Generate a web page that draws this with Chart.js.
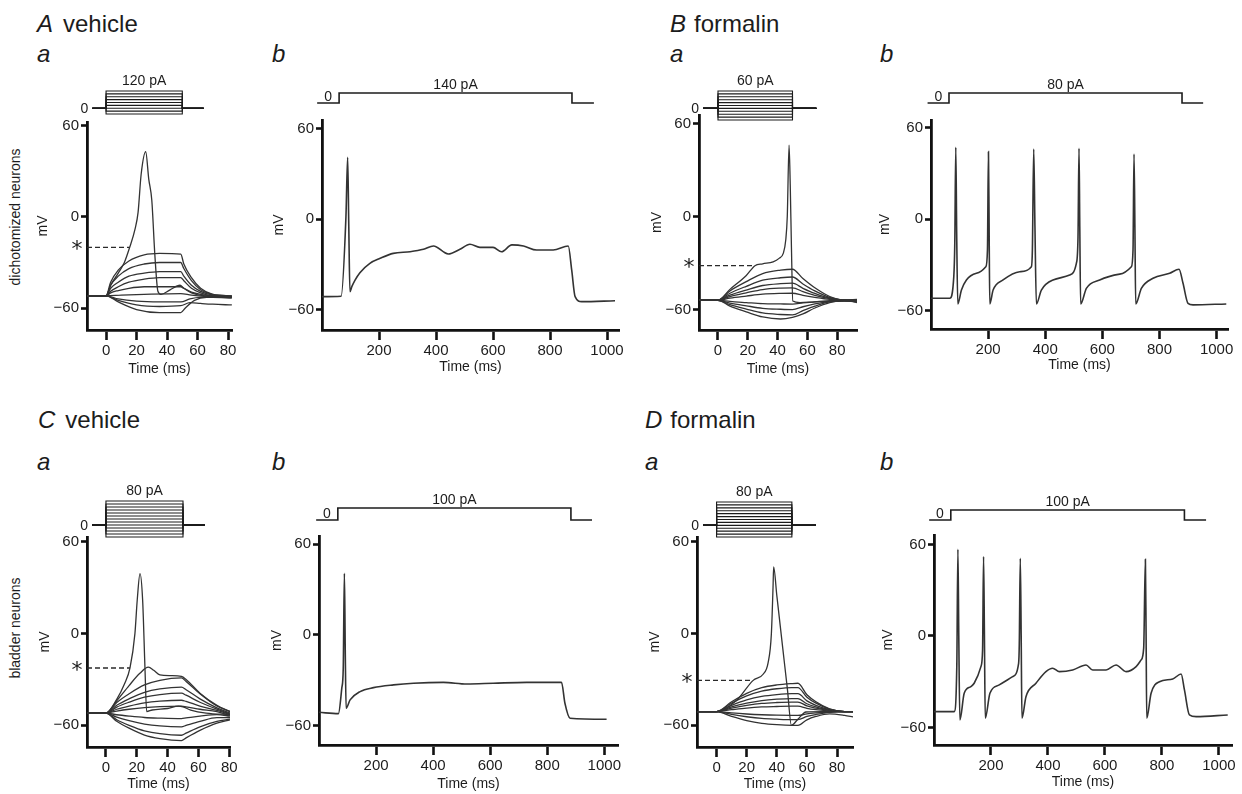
<!DOCTYPE html>
<html>
<head>
<meta charset="utf-8">
<script src="https://cdn.jsdelivr.net/npm/chart.js@4.4.1/dist/chart.umd.min.js"></script>
<style>
  body { margin: 0; background: #fff; width: 1242px; height: 794px; position: relative; overflow: hidden;
         font-family: "Liberation Sans", Arial, sans-serif; color: #1c1c1c; }
  canvas { position: absolute; }
  .h { position: absolute; font-size: 24px; line-height: 24px; white-space: nowrap; }
  .side { position: absolute; font-size: 14px; white-space: nowrap; transform: translate(-50%, -50%) rotate(-90deg); }
</style>
</head>
<body>
<div class="h" style="left:37px;top:12px"><i>A</i><span style="margin-left:10px">vehicle</span></div>
<div class="h" style="left:37px;top:42px"><i>a</i></div>
<div class="h" style="left:272px;top:42px"><i>b</i></div>
<div class="h" style="left:670px;top:12px"><i>B</i><span style="margin-left:8px">formalin</span></div>
<div class="h" style="left:670px;top:42px"><i>a</i></div>
<div class="h" style="left:880px;top:42px"><i>b</i></div>
<div class="h" style="left:38px;top:408px"><i>C</i><span style="margin-left:10px">vehicle</span></div>
<div class="h" style="left:37px;top:450px"><i>a</i></div>
<div class="h" style="left:272px;top:450px"><i>b</i></div>
<div class="h" style="left:645px;top:408px"><i>D</i><span style="margin-left:8px">formalin</span></div>
<div class="h" style="left:645px;top:450px"><i>a</i></div>
<div class="h" style="left:880px;top:450px"><i>b</i></div>
<div class="side" style="left:15px;top:217px">dichotomized neurons</div>
<div class="side" style="left:15px;top:628px">bladder neurons</div>

<script>
// ---- tick values ----
const yTicks = [-60, 0, 60];
const xTicksShort = [0, 20, 40, 60, 80];
const xTicksLong = [200, 400, 600, 800, 1000];

// ---- A a : vehicle, dichotomized, step family (t ms, mV) ----
const stimAmps_Aa = [-40, -20, 0, 20, 40, 60, 80, 100, 120];
const stimTime_Aa = [-9, 0, 50, 64];
const thr_Aa = [-20, 15.5];
const spike_Aa = [[-12.5,-52],[0,-52],[3,-45],[8,-37],[12,-30],[15.5,-20],[19,-8],[21,3],[23,28],[26,43],[28,25],[30,11],[32,-25],[34,-49],[36,-51],[42,-48],[48.5,-45],[51,-47],[56,-50],[65,-52],[82.5,-52.5]];
const sub_Aa = [
  [[-12.5,-52],[0,-52],[3,-43],[8,-35],[15,-29],[25,-25],[35,-24],[49,-24.5],[51,-31],[56,-40],[62,-47],[70,-51],[82.5,-52]],
  [[-12.5,-52],[0,-52],[3,-45],[8,-39],[15,-34],[25,-31],[35,-30],[49,-30],[51,-34],[56,-42],[62,-48],[70,-51],[82.5,-52]],
  [[-12.5,-52],[0,-52],[3,-47],[8,-43],[15,-39],[25,-37],[35,-36],[49,-36],[51,-39],[56,-45],[62,-49],[70,-51.5],[82.5,-52.5]],
  [[-12.5,-52],[0,-52],[3,-49],[8,-46],[15,-43],[25,-41],[35,-40],[49,-40],[51,-42],[56,-47],[62,-50],[70,-52],[82.5,-52.5]],
  [[-12.5,-52],[0,-52],[3,-50],[8,-48.5],[15,-47],[25,-46],[35,-46],[49,-46],[51,-47],[56,-49.5],[62,-51],[70,-52],[82.5,-53]],
  [[-12.5,-52],[0,-52],[10,-51.5],[25,-51],[49,-50.5],[56,-51.5],[70,-52.5],[82.5,-52.5]],
  [[-12.5,-52],[0,-52],[8,-54],[20,-55.5],[35,-56],[49,-56],[55,-54],[62,-53],[70,-53],[82.5,-53.5]],
  [[-12.5,-52],[0,-52],[8,-55],[20,-58],[35,-59],[49,-58.5],[55,-56.5],[62,-57],[70,-57.5],[82.5,-58]],
  [[-12.5,-52],[0,-52],[8,-56],[20,-61],[35,-63],[49,-63],[52,-60],[58,-55],[66,-53],[82.5,-53]]
];

// ---- A b : vehicle, dichotomized, long step ----
const stimAmp_Ab = [140];
const stimTime_Ab = [-17, 60, 877, 954];
const trace_Ab = [[0,-51.3],[67,-51],[84,1.7],[90,41],[94,-5],[98,-48],[105,-44.5],[116,-40.3],[133,-35.4],[168,-29.2],[204,-25.9],[250,-22.6],[309,-21.5],[356,-19.9],[391,-17.7],[443,-23],[484,-19.9],[519,-16.6],[554,-18.6],[600,-18.6],[630,-21.5],[666,-17],[707,-17.7],[753,-20.4],[811,-20.4],[864,-17.7],[876,-33.6],[888,-51.3],[911,-54.6],[1028,-54]];

// ---- B a : formalin, dichotomized, step family ----
const stimAmps_Ba = [-40, -30, -20, -10, 0, 10, 20, 30, 40, 50, 60];
const stimTime_Ba = [-10, 0, 50, 66];
const thr_Ba = [-31.7, 24.8];
const spike_Ba = [[-12.75,-54],[0,-54],[8,-47],[19,-38],[24.8,-31.7],[30,-30.5],[37,-29.2],[41,-27],[43.8,-23.8],[45.5,-15],[46.5,0],[47.7,46],[48.5,20],[49.3,-20],[50.2,-54.5],[55,-55.5],[65,-55],[80,-54.5],[93.3,-54]];
const sub_Ba = [
  [[-12.75,-54],[0,-54],[8,-48],[19,-42],[30,-36.8],[42,-34.6],[50,-34],[57,-40],[65,-46],[75,-51.6],[85,-54],[93.3,-54]],
  [[-12.75,-54],[0,-54],[8,-49.5],[19,-45],[30,-41.1],[42,-39.5],[50,-39],[57,-43.5],[65,-48],[75,-52.2],[85,-54],[93.3,-54.5]],
  [[-12.75,-54],[0,-54],[8,-50.7],[19,-47.4],[30,-44.5],[42,-43.3],[50,-43],[57,-46.3],[65,-49.6],[75,-52.7],[85,-54],[93.3,-55]],
  [[-12.75,-54],[0,-54],[8,-51.6],[19,-49.2],[30,-47.1],[42,-46.2],[50,-46],[57,-48.4],[65,-50.8],[75,-53],[85,-54.5],[93.3,-54]],
  [[-12.75,-54],[0,-54],[8,-52.6],[19,-51.3],[30,-50.1],[42,-49.6],[50,-49.5],[57,-50.9],[65,-52.2],[75,-53.5],[85,-54],[93.3,-55.5]],
  [[-12.75,-54],[0,-54],[8,-54.75],[19,-55.5],[30,-56.2],[42,-56.4],[50,-56.5],[57,-55.75],[65,-55],[75,-54.3],[85,-54],[93.3,-54]],
  [[-12.75,-54],[0,-54],[8,-55.8],[19,-57.6],[30,-59.2],[42,-59.8],[50,-60],[57,-58.2],[65,-56.4],[75,-54.7],[85,-54],[93.3,-53.5]],
  [[-12.75,-54],[0,-54],[8,-56.9],[19,-59.7],[30,-62.2],[42,-63.2],[50,-63.5],[57,-60.7],[65,-57.8],[75,-55.1],[85,-54.5],[93.3,-55]],
  [[-12.75,-54],[0,-54],[8,-57.8],[19,-61.5],[30,-64.8],[42,-66.1],[50,-65],[57,-62.8],[65,-59],[75,-55.5],[85,-54],[93.3,-54]]
];

// ---- B b : formalin, dichotomized, long step ----
const stimAmp_Bb = [80];
const stimTime_Bb = [-12, 63, 879, 953];
const trace_Bb = [[0,-51.7],[65.8,-51.7],[79.8,-37.5],[83.3,-15.7],[86.8,47.1],[90,-10],[93.8,-55.4],[106.6,-46.3],[124,-39.7],[159,-35.3],[192,-31],[197.7,-20.1],[201.2,44.3],[203.5,-5],[205.8,-55.4],[217.5,-46.3],[252.4,-39.7],[310.7,-34.3],[351.6,-31],[355,-20.1],[359.7,46],[364,-5],[369,-55.4],[386.5,-46.3],[427.3,-39.7],[485.6,-36.5],[509,-28.8],[514.8,-11.4],[518.3,46.4],[521,-5],[524,-55.4],[544,-45.2],[590.7,-39.7],[660.7,-35.9],[701.6,-31],[707.4,-20.1],[710.9,42.7],[714,-5],[716.8,-55.4],[736.6,-45.2],[777.5,-38.6],[835.8,-35.3],[868.5,-32.7],[882.5,-41.9],[900,-55],[917.5,-56],[1034,-55.4]];

// ---- C a : vehicle, bladder, step family ----
const stimAmps_Ca = [-40, -30, -20, -10, 0, 10, 20, 30, 40, 50, 60, 70, 80];
const stimTime_Ca = [-9, 0, 50, 64];
const thr_Ca = [-22.5, 15.6];
const spike_Ca = [[-12.5,-52],[0,-52],[7,-43],[12,-33],[15.6,-22.5],[18.8,0],[20.3,22],[22.1,39.3],[23.8,22],[25.3,-22],[26.4,-51],[30,-50],[40,-49],[47,-47.5],[50,-48],[55,-50],[65,-52],[80.5,-53]];
const sub_Ca = [
  [[-12.5,-52],[0,-52],[7,-44],[15,-34],[22,-26],[27.5,-22],[31,-24],[35,-27],[42,-27.5],[49,-28],[52,-30],[61,-39],[72,-47],[80.5,-51]],
  [[-12.5,-52],[0,-52],[7,-45.1],[15,-39.4],[25,-33.6],[35,-30.6],[49,-29],[52,-31.3],[61,-39.4],[72,-47.4],[80.5,-51]],
  [[-12.5,-52],[0,-52],[7,-46.9],[15,-42.7],[25,-38.4],[35,-36.2],[49,-35],[52,-36.7],[61,-42.7],[72,-48.6],[80.5,-52]],
  [[-12.5,-52],[0,-52],[7,-48.1],[15,-44.9],[25,-41.6],[35,-39.9],[49,-39],[52,-40.3],[61,-44.9],[72,-49.4],[80.5,-52.5]],
  [[-12.5,-52],[0,-52],[7,-49.5],[15,-47.4],[25,-45.3],[35,-44.2],[49,-43.6],[52,-44.4],[61,-47.4],[72,-50.3],[80.5,-53]],
  [[-12.5,-52],[0,-52],[7,-50.7],[15,-49.5],[25,-48.4],[35,-47.8],[49,-47.5],[52,-47.9],[61,-49.5],[72,-51.1],[80.5,-53.5]],
  [[-12.5,-52],[0,-52],[7,-53.1],[15,-54],[25,-54.9],[35,-55.3],[49,-55.6],[52,-55.2],[61,-54],[72,-53],[80.5,-54]],
  [[-12.5,-52],[0,-52],[7,-54.7],[15,-57],[25,-59.2],[35,-60.4],[49,-61],[52,-60.1],[61,-57.5],[72,-55],[80.5,-55]],
  [[-12.5,-52],[0,-52],[7,-56.4],[15,-60],[25,-63.6],[35,-65.5],[49,-66.5],[52,-65.1],[61,-61],[72,-57.5],[80.5,-56]],
  [[-12.5,-52],[0,-52],[7,-57.4],[15,-61.9],[25,-66.4],[35,-68.7],[49,-70],[52,-68.2],[61,-63.3],[72,-58.6],[80.5,-56.5]]
];

// ---- C b : vehicle, bladder, long step ----
const stimAmp_Cb = [100];
const stimTime_Cb = [-10, 66, 883, 957];
const trace_Cb = [[0,-51.1],[68,-52],[80,-35],[85,-22],[89,40.7],[92,-10],[95,-48.4],[109,-42.9],[144,-37.4],[191,-34.8],[261,-33],[331,-31.9],[436,-31.3],[518,-32.4],[611,-31.9],[728,-31.3],[850,-31.3],[862,-45.1],[880,-55],[1008,-55.7]];

// ---- D a : formalin, bladder, step family ----
const stimAmps_Da = [-40, -30, -20, -10, 0, 10, 20, 30, 40, 50, 60, 70, 80];
const stimTime_Da = [-9, 0, 50, 66];
const thr_Da = [-30.6, 24.3];
const spike_Da = [[-13,-51],[0,-51],[13,-44],[24.3,-30.6],[30.9,-26.6],[34.2,-19.2],[36.4,0],[37.5,30.5],[37.9,43.6],[40,25],[44,-10],[47,-36],[49.7,-60],[54,-56],[59.4,-51.3],[70,-51],[90.6,-51]];
const sub_Da = [
  [[-13,-51],[0,-51],[10,-44.6],[20,-39.1],[30,-35.4],[40,-33.6],[50,-32.7],[54,-32.5],[60,-40],[66,-44.6],[75,-49.2],[85,-51],[90.6,-51]],
  [[-13,-51],[0,-51],[10,-45.5],[20,-40.8],[30,-37.7],[40,-36.1],[50,-35.3],[54,-35.3],[60,-41.6],[66,-45.5],[75,-49.4],[85,-51],[90.6,-51]],
  [[-13,-51],[0,-51],[10,-46.9],[20,-43.4],[30,-41.1],[40,-39.9],[50,-39.3],[54,-39.3],[60,-44],[66,-46.9],[75,-49.8],[85,-51],[90.6,-51]],
  [[-13,-51],[0,-51],[10,-48],[20,-45.5],[30,-43.8],[40,-42.9],[50,-42.5],[54,-42.5],[60,-45.9],[66,-48],[75,-50.2],[85,-51],[90.6,-51]],
  [[-13,-51],[0,-51],[10,-48.8],[20,-47],[30,-45.7],[40,-45.1],[50,-44.8],[54,-44.8],[60,-47.3],[66,-48.8],[75,-50.4],[85,-51],[90.6,-51]],
  [[-13,-51],[0,-51],[10,-49.8],[20,-48.7],[30,-48],[40,-47.7],[50,-47.5],[54,-47.5],[60,-48.9],[66,-49.8],[75,-50.7],[85,-51],[90.6,-51]],
  [[-13,-51],[0,-51],[10,-51.9],[20,-52.6],[30,-53.1],[40,-53.4],[50,-53.5],[54,-53.5],[60,-52.5],[66,-51.9],[75,-51.3],[85,-51],[90.6,-51]],
  [[-13,-51],[0,-51],[10,-52.9],[20,-54.4],[30,-55.5],[40,-56],[50,-56.3],[54,-56.3],[60,-54.2],[66,-52.9],[75,-51.5],[85,-51],[90.6,-51]],
  [[-13,-51],[0,-51],[10,-54.2],[20,-56.9],[30,-58.7],[40,-59.6],[50,-60],[54,-60],[60,-56.4],[66,-54.2],[75,-52.5],[85,-53.5],[90.6,-54.5]]
];

// ---- D b : formalin, bladder, long step ----
const stimAmp_Db = [100];
const stimTime_Db = [-17, 59, 879, 955];
const trace_Db = [[0,-49.6],[71,-49.6],[80,-20.1],[83.9,56.8],[87,0],[90.8,-55.1],[106,-37.6],[129.5,-33.2],[141,-31],[164.7,-20.1],[170.5,-9.2],[174,52],[177,0],[179.9,-54],[196.3,-37.6],[229,-32.1],[276,-26.7],[297,-17.9],[299.4,-5],[302.9,50.9],[306,0],[308.7,-54],[322.8,-39.8],[357.9,-31],[393,-23.4],[416.5,-21.2],[440,-23.4],[486.7,-22.3],[533.6,-19],[557,-22.3],[604,-22.3],[639,-19],[674,-23.4],[709.5,-20.1],[727,-15.7],[736,-8],[742,50.3],[744.5,0],[746.7,-54],[762,-37.6],[791.3,-30],[838.1,-28.2],[867.4,-24.9],[879.1,-35.4],[896.6,-51.8],[920,-52.9],[1031,-51.8]];

// ---------------------------------------------------------------
const FONT = '"Liberation Sans", Arial, sans-serif';
const INK = '#1c1c1c';
const fmt = v => String(v).replace('-', '\u2212');

// asterisk next to the threshold dashed line
const starPlugin = {
  id: 'star',
  afterDraw(chart, args, opts) {
    if (opts.value === undefined) return;
    const ctx = chart.ctx;
    const y = chart.scales.y.getPixelForValue(opts.value);
    ctx.save();
    ctx.fillStyle = INK;
    ctx.font = '22px "DejaVu Sans", sans-serif';
    ctx.textAlign = 'center';
    ctx.textBaseline = 'middle';
    ctx.fillText('*', chart.chartArea.left - 10, y + 3);
    ctx.restore();
  }
};

// "0" and "xx pA" labels of the current protocol
const stimText = {
  id: 'stimtext',
  afterDraw(chart, args, opts) {
    const ctx = chart.ctx, xs = chart.scales.x, ys = chart.scales.y;
    const tm = opts.time, top = ys.getPixelForValue(opts.max), base = ys.getPixelForValue(0);
    ctx.save();
    ctx.fillStyle = INK;
    ctx.font = '14px ' + FONT;
    ctx.textAlign = 'center';
    ctx.textBaseline = 'alphabetic';
    ctx.fillText(opts.max + ' pA', xs.getPixelForValue((tm[1] + tm[2]) / 2), top - (opts.mode === 'a' ? 6 : 4));
    if (opts.mode === 'a') {
      ctx.textAlign = 'right';
      ctx.textBaseline = 'middle';
      ctx.fillText('0', xs.getPixelForValue(tm[0]) - 4, base + 1);
    } else {
      ctx.fillText('0', xs.getPixelForValue((tm[0] + tm[1]) / 2), base - 2);
    }
    ctx.restore();
  }
};

function addCanvas(left, top, w, h) {
  const c = document.createElement('canvas');
  c.width = w; c.height = h;
  c.style.left = left + 'px'; c.style.top = top + 'px';
  document.body.appendChild(c);
  return c;
}

function axisOpts(min, max, ticks, tickLen, title, fit) {
  return {
    type: 'linear', min: min, max: max,
    afterBuildTicks: s => { s.ticks = ticks.map(v => ({ value: v })); },
    afterFit: fit,
    border: { color: '#111', width: 2.8 },
    grid: { drawOnChartArea: false, tickLength: tickLen, tickWidth: 2.6, tickColor: '#111' },
    ticks: { color: INK, font: { size: 15, family: FONT }, padding: 2, maxRotation: 0, autoSkip: false, callback: fmt },
    title: { display: true, text: title, color: INK, font: { size: 14, family: FONT }, padding: 0 }
  };
}

function panel(p, traces, thr, lw) {
  const W = p.mv + 8, H = p.tt + 8, T = 12, R = 22;
  const c = addCanvas(p.x0 - W, p.y0 - T, W + p.x1 - p.x0 + R, T + p.y1 - p.y0 + H);
  const ds = traces.map(tr => ({
    data: tr, borderColor: '#333', borderWidth: lw, pointRadius: 0,
    cubicInterpolationMode: 'monotone', fill: false
  }));
  if (thr) {
    ds.push({ data: [[p.xMin, thr[0]], [thr[1], thr[0]]], borderColor: '#2a2a2a', borderWidth: 1.3,
              borderDash: [5, 3], pointRadius: 0, fill: false });
  }
  new Chart(c, {
    type: 'line',
    data: { datasets: ds },
    options: {
      animation: false, responsive: false, events: [],
      layout: { padding: { top: T, right: R, left: 0, bottom: 0 } },
      plugins: { legend: { display: false }, tooltip: { enabled: false },
                 star: { value: thr ? thr[0] : undefined } },
      scales: {
        x: axisOpts(p.xMin, p.xMax, p.xTicks, 10, 'Time (ms)', s => { s.height = H; }),
        y: axisOpts(p.yMin, p.yMax, yTicks, 6, 'mV', s => { s.width = W; })
      }
    },
    plugins: [starPlugin]
  });
}

function stim(p, amps, tm, topPx, botPx, mode) {
  const W = p.mv + 8, R = 22, T = 20, B = 4;
  const c = addCanvas(p.x0 - W, topPx - T, W + p.x1 - p.x0 + R, T + botPx - topPx + B);
  const ds = amps.map(a => ({
    data: [[tm[0], 0], [tm[1], 0], [tm[1], a], [tm[2], a], [tm[2], 0], [tm[3], 0]],
    borderColor: INK, borderWidth: mode === 'a' ? 1.1 : 1.6, pointRadius: 0, tension: 0, fill: false, clip: false
  }));
  new Chart(c, {
    type: 'line',
    data: { datasets: ds },
    options: {
      animation: false, responsive: false, events: [],
      layout: { padding: { top: T, right: R, left: W, bottom: B } },
      plugins: { legend: { display: false }, tooltip: { enabled: false },
                 stimtext: { mode: mode, time: tm, max: Math.max(...amps) } },
      scales: {
        x: { type: 'linear', min: p.xMin, max: p.xMax, display: false },
        y: { type: 'linear', min: Math.min(0, ...amps), max: Math.max(...amps), display: false }
      }
    },
    plugins: [stimText]
  });
}

// panel frames (page pixels of axis lines) and axis ranges
const P_Aa = { x0: 87, x1: 232, y0: 122, y1: 330, xMin: -12.5, xMax: 82.6, yMin: -74.5, yMax: 62.6, xTicks: xTicksShort, mv: 44, tt: 40 };
const P_Ab = { x0: 322, x1: 619, y0: 120, y1: 330, xMin: 0, xMax: 1042, yMin: -73.4, yMax: 65.8, xTicks: xTicksLong, mv: 43, tt: 38 };
const P_Ba = { x0: 699, x1: 857, y0: 115, y1: 330, xMin: -12.75, xMax: 93.3, yMin: -73.2, yMax: 65.5, xTicks: xTicksShort, mv: 42, tt: 40 };
const P_Bb = { x0: 931, x1: 1228, y0: 120, y1: 329, xMin: 0, xMax: 1040, yMin: -71.8, yMax: 65, xTicks: xTicksLong, mv: 46, tt: 37 };
const P_Ca = { x0: 87, x1: 230, y0: 537, y1: 747, xMin: -12.3, xMax: 80.5, yMin: -74.2, yMax: 63.2, xTicks: xTicksShort, mv: 42, tt: 38 };
const P_Cb = { x0: 319, x1: 618, y0: 536, y1: 745, xMin: 0, xMax: 1048, yMin: -72.7, yMax: 65.4, xTicks: xTicksLong, mv: 42, tt: 40 };
const P_Da = { x0: 697, x1: 853, y0: 537, y1: 747, xMin: -13, xMax: 90.6, yMin: -74.2, yMax: 63.2, xTicks: xTicksShort, mv: 42, tt: 38 };
const P_Db = { x0: 934, x1: 1232, y0: 535, y1: 745, xMin: 0, xMax: 1046, yMin: -71.5, yMax: 66.2, xTicks: xTicksLong, mv: 46, tt: 38 };

stim(P_Aa, stimAmps_Aa, stimTime_Aa, 91, 114, 'a');
panel(P_Aa, sub_Aa.concat([spike_Aa]), thr_Aa, 1.3);
stim(P_Ab, stimAmp_Ab, stimTime_Ab, 93, 103, 'b');
panel(P_Ab, [trace_Ab], null, 1.6);

stim(P_Ba, stimAmps_Ba, stimTime_Ba, 91, 120, 'a');
panel(P_Ba, sub_Ba.concat([spike_Ba]), thr_Ba, 1.3);
stim(P_Bb, stimAmp_Bb, stimTime_Bb, 93, 103, 'b');
panel(P_Bb, [trace_Bb], null, 1.6);

stim(P_Ca, stimAmps_Ca, stimTime_Ca, 501, 537, 'a');
panel(P_Ca, sub_Ca.concat([spike_Ca]), thr_Ca, 1.3);
stim(P_Cb, stimAmp_Cb, stimTime_Cb, 508, 520, 'b');
panel(P_Cb, [trace_Cb], null, 1.6);

stim(P_Da, stimAmps_Da, stimTime_Da, 502, 537, 'a');
panel(P_Da, sub_Da.concat([spike_Da]), thr_Da, 1.3);
stim(P_Db, stimAmp_Db, stimTime_Db, 510, 520, 'b');
panel(P_Db, [trace_Db], null, 1.6);
</script>
</body>
</html>
